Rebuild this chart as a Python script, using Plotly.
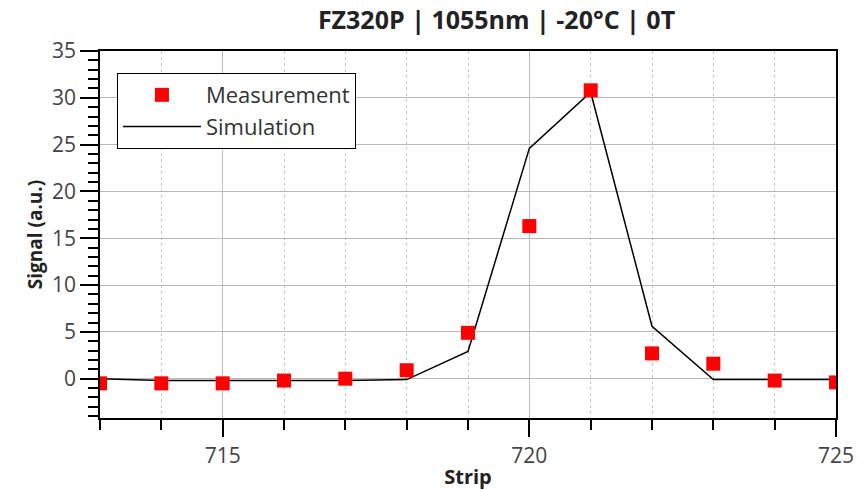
import plotly.graph_objects as go

strips = [713, 714, 715, 716, 717, 718, 719, 720, 721, 722, 723, 724, 725]
measurement = [-0.5, -0.5, -0.5, -0.2, 0.0, 0.9, 4.9, 16.3, 30.8, 2.7, 1.6, -0.2, -0.4]
simulation = [0.0, -0.2, -0.2, -0.2, -0.2, -0.1, 2.9, 24.6, 30.6, 5.6, -0.1, -0.1, -0.1]

title_text = "FZ320P | 1055nm | -20°C | 0T"
font_family = "Open Sans"

fig = go.Figure()
fig.add_trace(go.Scatter(
    x=strips, y=simulation, mode="lines", name="Simulation",
    line=dict(color="black", width=1.5),
))
fig.add_trace(go.Scatter(
    x=strips, y=measurement, mode="markers", name="Measurement",
    marker=dict(symbol="square", size=14, color="#ff0000", line=dict(width=0)),
))

fig.update_layout(
    width=865, height=490,
    margin=dict(l=100, r=29, t=51, b=72),
    paper_bgcolor="white", plot_bgcolor="white",
    font=dict(family=font_family, size=21, color="#444444"),
    title=dict(text="<b>" + title_text + "</b>", x=0.574, xanchor="center",
               y=0.959, yanchor="middle", font=dict(size=25, color="#222222")),
    showlegend=True,
    legend=dict(
        x=0.023, y=0.94, xanchor="left", yanchor="top",
        bgcolor="white", bordercolor="black", borderwidth=1,
        traceorder="reversed", font=dict(size=22, color="#333333"),
        itemwidth=78, tracegroupgap=0,
    ),
)
fig.update_xaxes(
    range=[713, 725], tickvals=[715, 720, 725],
    ticks="outside", ticklen=17, tickwidth=1.5, tickcolor="black",
    ticklabelstandoff=1, automargin=False,
    showline=True, linecolor="black", linewidth=1.5, mirror=True,
    showgrid=True, gridcolor="#bdbdbd", gridwidth=1,
    zeroline=False,
    minor=dict(dtick=1, tick0=713, ticks="outside", ticklen=10, tickcolor="black", tickwidth=1.5,
               showgrid=True, gridcolor="#c8c8c8", griddash="dot", gridwidth=1),
    title=dict(text="<b>Strip</b>", font=dict(size=20, color="#222222"), standoff=2),
)
fig.update_yaxes(
    range=[-4.2, 35], tickvals=[0, 5, 10, 15, 20, 25, 30, 35],
    ticks="outside", ticklen=18, tickwidth=1.5, tickcolor="black",
    automargin=False,
    showline=True, linecolor="black", linewidth=1.5, mirror=True,
    showgrid=True, gridcolor="#b8b8b8", gridwidth=1,
    zeroline=False,
    minor=dict(dtick=1, tick0=0, ticks="outside", ticklen=10, tickcolor="black", tickwidth=1.5,
               showgrid=False),
    title=dict(text="<b>Signal (a.u.)</b>", font=dict(size=19, color="#222222"), standoff=4),
)

fig.write_html("out.html")
